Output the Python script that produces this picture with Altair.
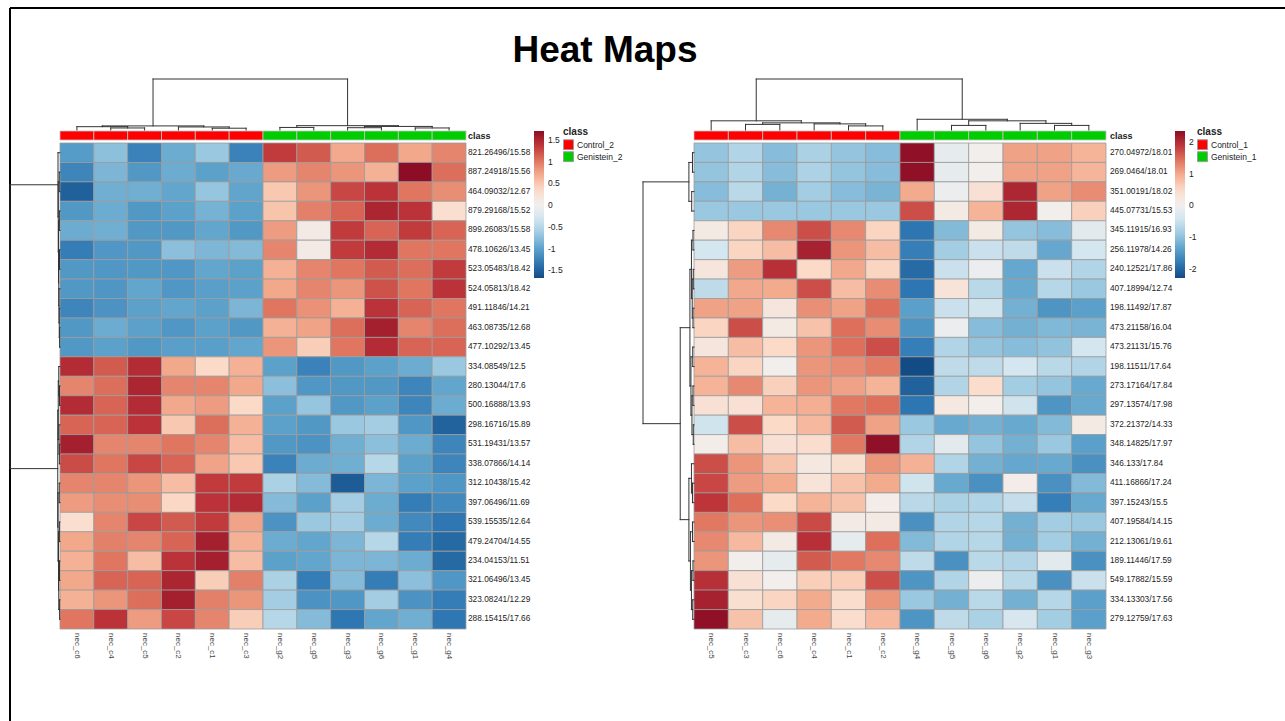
import altair as alt
import pandas as pd

FONT = "Liberation Sans"

# ---------------- data: left heat map ----------------
left_rows = [
    "821.26496/15.58", "887.24918/15.56", "464.09032/12.67", "879.29168/15.52",
    "899.26083/15.58", "478.10626/13.45", "523.05483/18.42", "524.05813/18.42",
    "491.11846/14.21", "463.08735/12.68", "477.10292/13.45", "334.08549/12.5",
    "280.13044/17.6", "500.16888/13.93", "298.16716/15.89", "531.19431/13.57",
    "338.07866/14.14", "312.10438/15.42", "397.06496/11.69", "539.15535/12.64",
    "479.24704/14.55", "234.04153/11.51", "321.06496/13.45", "323.08241/12.29",
    "288.15415/17.66",
]
left_cols = ["nec_c6", "nec_c4", "nec_c5", "nec_c2", "nec_c1", "nec_c3",
             "nec_g2", "nec_g5", "nec_g3", "nec_g6", "nec_g1", "nec_g4"]
left_classes = ["Control_2"] * 6 + ["Genistein_2"] * 6
left_values = [
    [-1.05, -0.75, -1.26, -0.92, -0.68, -1.26, 1.35, 1.17, 0.72, 1.06, 0.73, 0.93],
    [-1.24, -0.84, -1.08, -0.92, -1.01, -0.94, 0.80, 0.93, 0.84, 0.67, 1.71, 1.06],
    [-1.52, -0.90, -0.90, -0.97, -0.70, -0.98, 0.50, 0.84, 1.28, 1.40, 1.02, 0.88],
    [-1.08, -0.92, -1.08, -1.01, -0.87, -1.01, 0.53, 0.96, 1.12, 1.50, 1.40, 0.30],
    [-0.92, -0.90, -1.08, -1.08, -0.97, -1.08, 0.80, 0.10, 1.35, 1.12, 1.35, 1.12],
    [-1.30, -1.09, -1.08, -0.76, -0.83, -0.80, 0.93, 0.10, 1.35, 1.45, 1.02, 1.02],
    [-1.08, -1.09, -1.08, -1.09, -0.97, -1.01, 0.67, 0.93, 1.02, 1.17, 1.06, 1.35],
    [-1.08, -1.10, -0.97, -1.09, -1.03, -1.01, 0.73, 0.93, 0.84, 1.22, 1.02, 1.40],
    [-1.24, -1.13, -1.01, -0.97, -1.01, -0.84, 1.02, 0.86, 0.67, 1.40, 1.12, 1.02],
    [-1.08, -0.92, -1.01, -1.09, -1.01, -1.08, 0.67, 0.76, 1.06, 1.55, 0.93, 1.06],
    [-1.08, -1.01, -1.08, -1.03, -1.03, -0.97, 0.84, 0.45, 1.02, 1.45, 1.12, 1.12],
    [1.45, 1.17, 1.45, 0.73, 0.36, 0.67, -1.01, -1.26, -1.08, -1.01, -0.92, -0.68],
    [0.93, 1.06, 1.50, 0.93, 0.93, 0.73, -0.76, -1.09, -1.08, -1.08, -1.24, -0.97],
    [1.45, 1.12, 1.45, 0.73, 0.80, 0.36, -1.01, -0.70, -1.08, -1.01, -1.24, -0.92],
    [1.12, 1.12, 1.40, 0.50, 1.06, 0.67, -1.01, -1.08, -0.68, -0.62, -1.09, -1.50],
    [1.55, 0.93, 0.93, 1.02, 0.93, 0.58, -1.08, -1.13, -0.90, -0.76, -0.92, -1.24],
    [1.25, 1.02, 1.28, 1.12, 0.76, 0.50, -1.26, -0.92, -0.90, -0.50, -1.01, -1.24],
    [0.93, 0.93, 0.84, 0.58, 1.35, 1.35, -0.58, -0.79, -1.55, -0.84, -1.01, -1.09],
    [0.80, 0.88, 0.88, 0.38, 1.40, 1.45, -0.79, -1.01, -0.62, -0.92, -1.30, -1.20],
    [0.30, 0.93, 1.28, 1.17, 1.35, 0.76, -1.13, -0.68, -0.62, -0.92, -1.20, -1.35],
    [0.73, 0.96, 0.93, 1.12, 1.55, 0.67, -0.92, -0.97, -0.84, -0.50, -1.30, -1.45],
    [0.67, 1.02, 0.58, 1.40, 1.55, 0.58, -1.01, -0.97, -0.84, -0.84, -0.92, -1.45],
    [0.73, 1.12, 1.12, 1.50, 0.45, 0.96, -0.58, -1.30, -0.79, -1.30, -0.76, -1.09],
    [0.67, 0.84, 1.06, 1.55, 0.96, 0.84, -0.62, -1.13, -1.09, -0.62, -1.13, -1.30],
    [1.02, 1.40, 0.80, 1.28, 0.93, 0.45, -0.50, -0.79, -1.35, -0.97, -0.90, -1.35],
]
# dendrograms: (join height, left, right); leaves are display indices
left_col_tree = (1.0,
                 (0.08, (0.065, 0, (0.04, 1, 2)), (0.06, 3, (0.035, 4, 5))),
                 (0.085, (0.05, 6, 7), (0.07, (0.045, 8, 9), (0.04, 10, 11))))
left_row_tree = (1.0,
                 (0.04, 0, (0.035, (0.015, 1, 2),
                            (0.03, (0.012, 3, 4),
                             (0.025, (0.01, 5, 6),
                              (0.02, 7, (0.015, 8, (0.008, 9, 10))))))),
                 (0.045,
                  (0.035, (0.025, 11, (0.01, 12, 13)), (0.02, 14, (0.012, 15, 16))),
                  (0.04, (0.015, 17, 18),
                   (0.03, (0.012, 19, 20),
                    (0.025, (0.01, 21, 22), (0.008, 23, 24))))))
left_color_domain = [-1.68, 1.71]
left_legend_values = [-1.5, -1, -0.5, 0, 0.5, 1, 1.5]

# ---------------- data: right heat map ----------------
right_rows = [
    "270.04972/18.01", "269.0464/18.01", "351.00191/18.02", "445.07731/15.53",
    "345.11915/16.93", "256.11978/14.26", "240.12521/17.86", "407.18994/12.74",
    "198.11492/17.87", "473.21158/16.04", "473.21131/15.76", "198.11511/17.64",
    "273.17164/17.84", "297.13574/17.98", "372.21372/14.33", "348.14825/17.97",
    "346.133/17.84", "411.16866/17.24", "397.15243/15.5", "407.19584/14.15",
    "212.13061/19.61", "189.11446/17.59", "549.17882/15.59", "334.13303/17.56",
    "279.12759/17.63",
]
right_cols = ["nec_c5", "nec_c3", "nec_c6", "nec_c4", "nec_c1", "nec_c2",
              "nec_g4", "nec_g5", "nec_g6", "nec_g2", "nec_g1", "nec_g3"]
right_classes = ["Control_1"] * 6 + ["Genistein_1"] * 6
right_values = [
    [-0.95, -0.72, -1.05, -0.78, -0.95, -1.05, 2.30, -0.15, 0.05, 1.05, 1.05, 0.90],
    [-0.95, -0.72, -1.05, -0.75, -0.95, -1.05, 2.30, -0.15, 0.05, 1.05, 1.05, 0.88],
    [-1.05, -0.65, -1.18, -0.85, -1.05, -1.15, 0.98, -0.05, 0.35, 2.05, 1.05, 1.22],
    [-0.92, -0.92, -0.92, -0.92, -0.92, -0.92, 1.70, 0.15, 0.90, 2.05, 0.05, 0.60],
    [0.15, 0.55, 1.25, 1.70, 1.25, 0.55, -1.84, -1.08, 0.15, -0.95, -1.05, -0.20],
    [-0.40, 0.55, 0.80, 2.10, 1.15, 0.80, -1.75, -0.85, -0.50, -0.60, -1.30, -0.40],
    [0.25, 1.10, 1.95, 0.50, 1.00, 0.55, -1.95, -0.50, -0.05, -1.30, -0.50, -0.72],
    [-0.60, 1.00, 0.98, 1.70, 0.80, 1.22, -1.84, 0.30, -0.65, -1.28, -0.68, -0.92],
    [1.05, 1.05, 0.25, 1.20, 1.05, 1.45, -1.38, -0.50, -0.45, -1.20, -1.50, -1.38],
    [0.55, 1.70, 0.15, 0.75, 1.45, 1.22, -1.50, -0.05, -1.05, -1.20, -1.10, -1.15],
    [0.25, 0.80, 0.50, 1.15, 1.45, 1.70, -1.75, -0.72, -0.95, -1.05, -0.98, -0.40],
    [0.90, 0.55, 0.05, 1.15, 1.22, 1.35, -2.28, -0.60, -0.60, -0.40, -0.65, -0.72],
    [0.90, 1.25, 0.60, 1.15, 1.05, 0.90, -2.05, -0.72, 0.45, -0.85, -0.95, -1.28],
    [0.35, 0.35, 0.90, 0.95, 1.38, 1.45, -1.84, 0.20, 0.05, -0.45, -1.50, -1.28],
    [-0.45, 1.70, 0.50, 0.85, 1.60, 1.05, -0.92, -1.28, -1.20, -1.28, -1.08, 0.15],
    [0.08, 0.80, 0.35, 0.45, 1.38, 2.30, -0.72, -0.20, -0.95, -1.20, -0.92, -1.38],
    [1.70, 1.15, 0.75, 0.20, 0.40, 1.15, 0.92, -0.72, -1.20, -1.30, -1.28, -1.55],
    [1.75, 1.10, 0.98, 0.30, 0.75, 0.98, -0.45, -1.28, -1.55, 0.10, -1.55, -1.08],
    [1.90, 1.45, 0.50, 0.90, 0.75, 0.10, -0.65, -0.78, -0.72, -0.55, -1.75, -1.28],
    [1.38, 1.15, 1.20, 1.72, 0.15, 0.15, -1.55, -0.72, -0.68, -1.20, -0.85, -0.92],
    [1.25, 0.85, 0.15, 1.95, -0.15, 1.45, -1.08, -0.72, -0.68, -1.20, -0.85, -1.20],
    [1.15, 0.05, -0.15, 1.60, 1.38, 1.25, -0.60, -1.55, -0.65, -0.72, -0.20, -1.55],
    [1.95, 0.35, 0.05, 0.62, 0.62, 1.70, -1.50, -0.72, -0.05, -0.65, -1.55, -0.50],
    [2.10, 0.40, 0.55, 0.98, 0.45, 1.15, -0.92, -1.20, -0.65, -1.20, -0.68, -1.38],
    [2.30, 0.75, -0.15, 0.98, 0.45, 0.85, -1.50, -0.60, -0.78, -0.35, -0.85, -1.38],
]
right_col_tree = (1.0,
                  (0.18, 0, (0.14, (0.11, 1, 2), (0.12, 3, (0.08, 4, 5)))),
                  (0.21, 6, (0.18, (0.09, 7, 8), (0.13, 9, (0.09, 10, 11)))))
right_row_tree = (1.0,
                  (0.10, (0.03, 0, 1), (0.045, 2, 3)),
                  (0.27,
                   (0.08, (0.05, (0.02, 4, 5), (0.035, (0.015, 6, 7), (0.02, 8, 9))),
                    (0.06, (0.025, 10, 11), (0.04, (0.02, 12, 13), (0.015, 14, 15)))),
                   (0.10, (0.05, 16, (0.03, 17, 18)),
                    (0.07, (0.03, 19, 20), (0.05, (0.02, 21, 22), (0.025, 23, 24))))))
right_color_domain = [-2.28, 2.34]
right_legend_values = [-2, -1, 0, 1, 2]

title_text = "Heat Maps"

# ---------------- layout (pixels) ----------------
LEFT_GEOM = dict(hx=[60, 466], hy=[143, 629], cls_y=(131, 140), top_y=[130, 79],
                 side_x=[60, 10], rowlab_x=468, collab_y=633, grad=(534, 131),
                 clsleg=(563, 127))
RIGHT_GEOM = dict(hx=[694, 1106], hy=[143, 629], cls_y=(131, 140), top_y=[130, 79],
                  side_x=[694, 643], rowlab_x=1110, collab_y=633, grad=(1175, 131),
                  clsleg=(1197, 127))


def lin(domain, rng):
    return alt.Scale(domain=domain, range=rng, nice=False, zero=False)


def cell_table(rows, cols, values):
    recs = []
    for i, r in enumerate(rows):
        for j, c in enumerate(cols):
            recs.append(dict(row=r, col=c, r0=i, r1=i + 1, c0=j, c1=j + 1, v=values[i][j]))
    return pd.DataFrame(recs)


def segment_table(tree):
    segs = []

    def walk(node):
        if isinstance(node, int):
            return node + 0.5, 0.0
        h, a, b = node
        pa, ha = walk(a)
        pb, hb = walk(b)
        segs.append(dict(p0=pa, p1=pa, h0=ha, h1=h))
        segs.append(dict(p0=pb, p1=pb, h0=hb, h1=h))
        segs.append(dict(p0=pa, p1=pb, h0=h, h1=h))
        return (pa + pb) / 2, h

    walk(tree)
    return pd.DataFrame(segs)


def panel(rows, cols, classes, values, col_tree, row_tree, cdom, lvals, g):
    n_r, n_c = len(rows), len(cols)
    xs = lin([0, n_c], g["hx"])
    ys = lin([0, n_r], g["hy"])

    heat = alt.Chart(cell_table(rows, cols, values)).mark_rect(
        stroke="#9c9c9c", strokeWidth=0.8
    ).encode(
        x=alt.X("c0:Q", scale=xs, axis=None), x2="c1:Q",
        y=alt.Y("r0:Q", scale=ys, axis=None), y2="r1:Q",
        color=alt.Color(
            "v:Q",
            scale=alt.Scale(scheme="redblue", reverse=True, domain=cdom),
            legend=alt.Legend(
                orient="none", legendX=g["grad"][0], legendY=g["grad"][1],
                title=None, direction="vertical", gradientLength=147,
                gradientThickness=10, gradientStrokeWidth=0, values=lvals,
                labelExpr="toString(datum.value)", labelFont=FONT,
                labelFontSize=8.5, labelColor="#222", labelOffset=4, padding=0,
            ),
        ),
    )

    ctab = pd.DataFrame(dict(col=cols, cls=classes, c0=list(range(n_c)),
                             c1=list(range(1, n_c + 1)),
                             cc=[j + 0.5 for j in range(n_c)]))
    strip = alt.Chart(ctab).mark_rect(stroke="#c4c4c4", strokeWidth=0.8).encode(
        x=alt.X("c0:Q", scale=xs, axis=None), x2="c1:Q",
        y=alt.value(g["cls_y"][0]), y2=alt.value(g["cls_y"][1]),
        color=alt.Color(
            "cls:N",
            scale=alt.Scale(domain=[classes[0], classes[-1]], range=["#ff0000", "#00cd00"]),
            legend=alt.Legend(
                orient="none", legendX=g["clsleg"][0], legendY=g["clsleg"][1],
                title="class", titleFont=FONT, titleFontSize=10, titleFontWeight="bold",
                titleColor="#222", titlePadding=2, symbolType="square", symbolSize=100,
                symbolStrokeColor="#9c9c9c", symbolStrokeWidth=1, symbolOpacity=1,
                labelFont=FONT, labelFontSize=8.5, labelColor="#222", labelOffset=3,
                rowPadding=0, padding=0, clipHeight=11.5,
            ),
        ),
    )

    collab = alt.Chart(ctab).mark_text(
        angle=90, align="left", baseline="middle", font=FONT, fontSize=8, color="#444"
    ).encode(
        x=alt.X("cc:Q", scale=xs, axis=None), y=alt.value(g["collab_y"]), text="col:N"
    )

    rtab = pd.DataFrame(dict(row=rows, rc=[i + 0.5 for i in range(n_r)]))
    rowlab = alt.Chart(rtab).mark_text(
        align="left", baseline="middle", font=FONT, fontSize=8.3, color="#222"
    ).encode(
        x=alt.value(g["rowlab_x"]), y=alt.Y("rc:Q", scale=ys, axis=None), text="row:N"
    )

    clslab = alt.Chart(pd.DataFrame({"t": ["class"]})).mark_text(
        align="left", baseline="middle", font=FONT, fontSize=9, fontWeight="bold", color="#222"
    ).encode(x=alt.value(g["rowlab_x"]), y=alt.value(136), text="t:N")

    top = alt.Chart(segment_table(col_tree)).mark_rule(
        color="#333", strokeWidth=1, strokeCap="square"
    ).encode(
        x=alt.X("p0:Q", scale=xs, axis=None), x2="p1:Q",
        y=alt.Y("h0:Q", scale=lin([0, 1], g["top_y"]), axis=None), y2="h1:Q",
    )
    side = alt.Chart(segment_table(row_tree)).mark_rule(
        color="#333", strokeWidth=1, strokeCap="square"
    ).encode(
        x=alt.X("h0:Q", scale=lin([0, 1], g["side_x"]), axis=None), x2="h1:Q",
        y=alt.Y("p0:Q", scale=ys, axis=None), y2="p1:Q",
    )
    return [heat, strip, collab, rowlab, clslab, top, side]


one = pd.DataFrame({"t": [title_text]})
title = alt.Chart(one).mark_text(
    font=FONT, fontSize=37, fontWeight="bold", align="center", baseline="alphabetic", color="black"
).encode(x=alt.value(605), y=alt.value(62), text="t:N")
frame_v = alt.Chart(one).mark_rule(color="black", strokeWidth=2).encode(
    x=alt.value(10), y=alt.value(8), y2=alt.value(721))
frame_h = alt.Chart(one).mark_rule(color="black", strokeWidth=2).encode(
    x=alt.value(10), x2=alt.value(1285), y=alt.value(8))

layers = [frame_v, frame_h, title]
layers += panel(left_rows, left_cols, left_classes, left_values, left_col_tree,
                left_row_tree, left_color_domain, left_legend_values, LEFT_GEOM)
layers += panel(right_rows, right_cols, right_classes, right_values, right_col_tree,
                right_row_tree, right_color_domain, right_legend_values, RIGHT_GEOM)

chart = alt.layer(*layers).resolve_scale(
    x="independent", y="independent", color="independent"
).properties(
    width=1285, height=721, padding=0, autosize=alt.AutoSizeParams(type="none"),
    background="white",
).configure_view(stroke=None)

chart.save("out.html", embed_options={"renderer": "svg", "actions": False})
